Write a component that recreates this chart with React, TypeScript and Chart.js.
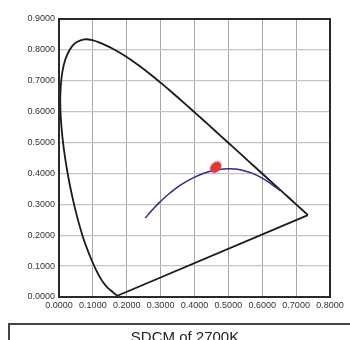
import React, { useEffect, useRef } from "react";
import { Chart, registerables } from "chart.js";
Chart.register(...registerables);

// CIE 1931 spectral locus (380–700 nm)
const locusX = [0.1741, 0.1740, 0.1738, 0.1736, 0.1733, 0.1730, 0.1726, 0.1721, 0.1714, 0.1703, 0.1689, 0.1669, 0.1644, 0.1611, 0.1566, 0.1510, 0.1440, 0.1355, 0.1241, 0.1096, 0.0913, 0.0687, 0.0454, 0.0235, 0.0082, 0.0039, 0.0139, 0.0389, 0.0743, 0.1142, 0.1547, 0.1929, 0.2296, 0.2658, 0.3016, 0.3373, 0.3731, 0.4087, 0.4441, 0.4788, 0.5125, 0.5448, 0.5752, 0.6029, 0.6270, 0.6482, 0.6658, 0.6801, 0.6915, 0.7006, 0.7079, 0.7140, 0.7190, 0.7230, 0.7260, 0.7283, 0.7300, 0.7311, 0.7320, 0.7327, 0.7334, 0.7344, 0.7347];
const locusY = [0.0050, 0.0050, 0.0049, 0.0049, 0.0048, 0.0048, 0.0048, 0.0048, 0.0051, 0.0058, 0.0069, 0.0086, 0.0109, 0.0138, 0.0177, 0.0227, 0.0297, 0.0399, 0.0578, 0.0868, 0.1327, 0.2007, 0.2950, 0.4127, 0.5384, 0.6548, 0.7502, 0.8120, 0.8338, 0.8262, 0.8059, 0.7816, 0.7543, 0.7243, 0.6923, 0.6589, 0.6245, 0.5896, 0.5547, 0.5202, 0.4866, 0.4544, 0.4242, 0.3965, 0.3725, 0.3514, 0.3340, 0.3197, 0.3083, 0.2993, 0.2920, 0.2859, 0.2809, 0.2770, 0.2740, 0.2717, 0.2700, 0.2689, 0.2680, 0.2673, 0.2666, 0.2656, 0.2653];

// Line of purples (700 nm → 380 nm)
const purpleX = [0.7347, 0.1741];
const purpleY = [0.2653, 0.0050];

// Planckian locus (1000 K → ~22000 K)
const planckX = [0.6528, 0.6251, 0.5985, 0.5732, 0.5493, 0.5267, 0.5056, 0.4862, 0.4685, 0.4524, 0.4369, 0.4234, 0.4053, 0.3805, 0.3608, 0.3451, 0.3221, 0.3064, 0.2952, 0.2807, 0.2719, 0.2637, 0.2565, 0.2548];
const planckY = [0.3444, 0.3674, 0.3858, 0.3993, 0.4082, 0.4133, 0.4152, 0.4147, 0.4123, 0.4086, 0.4041, 0.3990, 0.3907, 0.3768, 0.3636, 0.3516, 0.3318, 0.3166, 0.3048, 0.2884, 0.2776, 0.2675, 0.2577, 0.2552];

// SDCM ellipse centre
const sdcmX = [0.4626];
const sdcmY = [0.4204];

const titleText = "SDCM of 2700K";
const xMin = 0, xMax = 0.8, yMin = 0, yMax = 0.9, tickStep = 0.1;

const zip = (xs: number[], ys: number[]) => xs.map((x, i) => ({ x, y: ys[i] }));

function ellipseStyle(): HTMLCanvasElement {
  const c = document.createElement("canvas");
  c.width = 15;
  c.height = 15;
  const g = c.getContext("2d")!;
  g.translate(7.5, 7.5);
  g.rotate(-Math.PI / 4);
  g.beginPath();
  g.ellipse(0, 0, 6.5, 4.8, 0, 0, Math.PI * 2);
  g.fillStyle = "#e1383c";
  g.fill();
  return c;
}

const framePlugin = {
  id: "frame",
  afterDraw(chart: any) {
    const { ctx, chartArea: a } = chart;
    ctx.save();
    ctx.strokeStyle = "#2a2a2a";
    ctx.lineWidth = 2;
    ctx.strokeRect(a.left, a.top, a.right - a.left, a.bottom - a.top);
    ctx.restore();
  },
};

export default function App() {
  const ref = useRef<HTMLCanvasElement>(null);
  useEffect(() => {
    const tickFont = { family: "'Liberation Sans', Arial, sans-serif", size: 9 };
    const chart = new Chart(ref.current!, {
      type: "scatter",
      data: {
        datasets: [
          {
            data: zip(sdcmX, sdcmY),
            pointStyle: ellipseStyle() as any,
            pointRadius: 7,
            showLine: false,
          },
          {
            data: zip(planckX, planckY),
            showLine: true,
            borderColor: "#2f2a8e",
            borderWidth: 1.5,
            pointRadius: 0,
            tension: 0.3,
          },
          {
            data: zip(locusX, locusY),
            showLine: true,
            borderColor: "#1a1a1a",
            borderWidth: 1.8,
            pointRadius: 0,
            tension: 0.4,
          },
          {
            data: zip(purpleX, purpleY),
            showLine: true,
            borderColor: "#1a1a1a",
            borderWidth: 1.8,
            pointRadius: 0,
            tension: 0,
          },
        ],
      },
      options: {
        animation: false,
        responsive: false,
        layout: { padding: { left: 0, right: 20, top: 19, bottom: 30 } },
        plugins: { legend: { display: false }, tooltip: { enabled: false } },
        scales: {
          x: {
            type: "linear",
            min: xMin,
            max: xMax,
            afterFit: (s: any) => { s.height = 13; },
            grid: { color: "#a6a6b0", lineWidth: 1, drawTicks: false },
            border: { display: false },
            ticks: {
              stepSize: tickStep,
              autoSkip: false,
              maxRotation: 0,
              padding: 3,
              color: "#333333",
              font: tickFont,
              callback: (v: any) => Number(v).toFixed(4),
            },
          },
          y: {
            type: "linear",
            min: yMin,
            max: yMax,
            afterFit: (s: any) => { s.width = 59; },
            grid: { color: "#c2c2c8", lineWidth: 1.3, drawTicks: false },
            border: { display: false },
            ticks: {
              stepSize: tickStep,
              autoSkip: false,
              padding: 4,
              color: "#333333",
              font: tickFont,
              callback: (v: any) => Number(v).toFixed(4),
            },
          },
        },
      },
      plugins: [framePlugin],
    });
    return () => chart.destroy();
  }, []);

  return (
    <div style={{ position: "absolute", left: 0, top: 0, width: 350, height: 340, overflow: "hidden", background: "#fff" }}>
      <canvas ref={ref} width={350} height={340} style={{ position: "absolute", left: 0, top: 0 }} />
      <div
        style={{
          position: "absolute",
          left: 8,
          top: 323,
          width: 352,
          height: 30,
          boxSizing: "border-box",
          borderTop: "2px solid #444",
          borderLeft: "2px solid #444",
          textAlign: "center",
          fontFamily: "'Liberation Sans', Arial, sans-serif",
          fontSize: 15,
          lineHeight: "17px",
          paddingTop: 3,
          color: "#222",
        }}
      >
        {titleText}
      </div>
    </div>
  );
}
